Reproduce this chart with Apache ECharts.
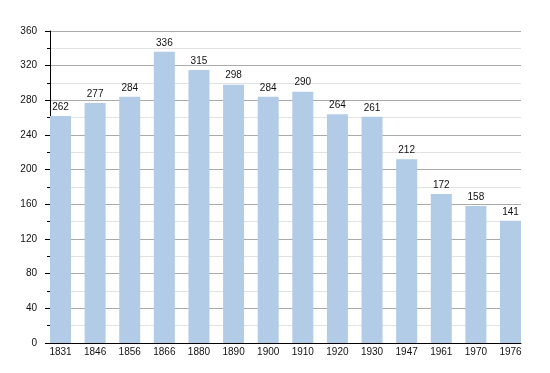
<!DOCTYPE html>
<html><head><meta charset="utf-8">
<script src="https://cdn.jsdelivr.net/npm/echarts@6/dist/echarts.min.js"></script>
<style>html,body{margin:0;padding:0;background:#fff}#c{width:550px;height:373px}</style>
</head><body><div id="c"></div>
<script>
const years = ['1831','1846','1856','1866','1880','1890','1900','1910','1920','1930','1947','1961','1970','1976'];
const population = [262,277,284,336,315,298,284,290,264,261,212,172,158,141];
const yMin = 0, yMax = 360, yStep = 40;

const chart = echarts.init(document.getElementById('c'), null, {renderer:'canvas'});
const font = 'Liberation Sans, Arial, Helvetica, sans-serif';
chart.setOption({
  animation:false,
  backgroundColor:'#fff',
  grid:[
    {left:50, right:29, top:31, bottom:30},
    {left:60.5, right:39.5, top:31, bottom:30}
  ],
  xAxis:[
    {gridIndex:0, type:'value', min:0, max:1, axisLine:{show:true, onZero:false, lineStyle:{color:'#000', width:1}}, axisTick:{show:false}, axisLabel:{show:false}, splitLine:{show:false}},
    {gridIndex:1, type:'category', data:years, boundaryGap:false,
     axisLine:{show:false}, axisTick:{show:false},
     axisLabel:{color:'#111', fontSize:10, fontFamily:font, margin:4, interval:0},
     splitLine:{show:false}}
  ],
  yAxis:[
    {gridIndex:0, type:'value', min:yMin, max:yMax, interval:yStep,
     axisLine:{show:true, lineStyle:{color:'#000', width:1}},
     axisTick:{show:true, length:5, lineStyle:{color:'#000'}},
     minorTick:{show:true, splitNumber:2, length:3, lineStyle:{color:'#000'}},
     axisLabel:{color:'#111', fontSize:10, fontFamily:font, margin:13},
     splitLine:{show:true, lineStyle:{color:'#aaaaaa', width:1}},
     minorSplitLine:{show:true, lineStyle:{color:'#e2e2e2', width:1}}
    },
    {gridIndex:1, type:'value', min:yMin, max:yMax, show:false}
  ],
  series:[{
    type:'bar', xAxisIndex:1, yAxisIndex:1, data:population, barWidth:21,
    itemStyle:{color:'#b2cbe6'},
    label:{show:true, position:'top', distance:4, color:'#111', fontSize:10, fontFamily:font}
  }]
});
</script></body></html>
